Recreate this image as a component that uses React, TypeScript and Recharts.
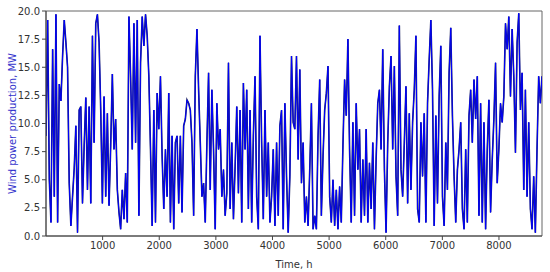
import { LineChart, Line, XAxis, YAxis, ReferenceArea } from 'recharts';

const powerFirstHalf = [
  8.9, 19.2, 5.0, 1.2, 16.6, 3.5, 19.7, 1.2, 13.5, 12.0, 16.0, 19.2, 17.2, 15.0, 4.7, 0.9,
  3.5, 6.0, 9.8, 0.3, 11.2, 11.5, 2.9, 8.0, 12.3, 4.1, 11.5, 2.9, 17.8, 8.3, 18.9, 19.7,
  17.2, 11.2, 2.9, 12.4, 3.5, 10.9, 2.7, 8.0, 14.4, 7.7, 10.4, 4.1, 2.1, 0.6, 4.1, 1.5,
  5.6, 1.2, 19.5, 14.2, 7.7, 18.9, 8.3, 19.2, 1.8, 15.4, 19.5, 16.9, 19.7, 17.8, 14.2, 7.7,
  0.9, 11.2, 1.2, 12.7, 9.5, 14.2, 7.1, 2.4, 7.7, 3.5, 12.7, 1.2, 8.9, 0.6, 8.3, 8.9,
  2.9, 8.9, 2.1, 9.8, 10.4, 12.1, 11.8, 11.2, 8.3, 1.8, 14.2, 18.4, 13.0, 8.3, 3.5, 4.7,
  1.2, 8.3, 14.5, 4.1, 13.0, 7.7, 0.6, 11.8, 7.7, 9.5, 3.5, 5.9, 1.8, 3.8, 15.4, 2.4,
  8.3, 1.5, 6.2, 11.5, 3.8, 11.2, 1.2, 13.6, 7.7, 13.0, 2.4, 11.2, 1.2, 8.9, 14.2, 3.5,
  0.6, 17.8, 8.3, 1.5, 11.2, 3.5, 8.3, 1.2, 3.5, 7.7, 0.9, 8.3, 1.8, 9.8, 11.2, 0.6,
  11.8, 5.3, 0.3, 5.3, 16.0, 10.1, 9.5,
];

const powerSecondHalf = [
  16.0, 6.8, 14.8, 4.7, 8.3, 1.2, 3.5, 0.9, 5.9, 11.8, 0.6, 1.8, 0.6, 8.9, 13.9, 1.8,
  7.1, 11.2, 12.7, 15.1, 3.5, 1.2, 5.0, 0.9, 4.1, 0.6, 4.4, 1.2, 8.0, 13.9, 10.7, 17.5,
  7.7, 1.2, 10.1, 1.8, 11.8, 5.9, 9.5, 1.2, 6.8, 1.8, 9.5, 1.2, 6.5, 2.4, 8.3, 0.6,
  6.8, 11.8, 13.0, 7.7, 16.6, 5.9, 0.3, 8.3, 13.3, 16.0, 7.7, 15.1, 5.3, 1.8, 18.7, 5.9,
  3.5, 8.3, 13.3, 2.9, 10.9, 4.1, 10.1, 13.0, 17.8, 2.4, 1.2, 10.1, 5.3, 10.9, 1.2, 11.8,
  15.7, 19.2, 13.0, 0.9, 10.7, 2.9, 12.4, 16.9, 3.5, 0.9, 8.3, 4.1, 14.5, 18.5, 10.7, 5.3,
  1.2, 5.9, 7.7, 10.1, 2.4, 0.6, 7.7, 1.2, 10.7, 13.0, 8.3, 13.9, 10.4, 14.2, 1.8, 11.8,
  1.2, 10.1, 0.6, 7.7, 12.1, 2.1, 6.8, 10.4, 15.4, 4.7, 7.7, 11.8, 10.1, 12.4, 18.9, 16.6,
  19.5, 12.4, 18.4, 14.2, 7.4, 17.2, 19.8, 11.2, 14.5, 4.1, 13.0, 3.5, 10.1, 2.4, 0.6, 5.3,
  0.3, 7.7, 14.2, 11.8, 14.2,
];

const power = [...powerFirstHalf, ...powerSecondHalf];
const HOURS_IN_YEAR = 8760;
const xTicks = [1000, 2000, 3000, 4000, 5000, 6000, 7000, 8000];
const yTicks = [0, 2.5, 5, 7.5, 10, 12.5, 15, 17.5, 20];

const step = HOURS_IN_YEAR / (power.length - 1);
const data = power.map((p, i) => ({ hour: i * step, power: p }));

const font = 'DejaVu Sans, sans-serif';

export default function App() {
  return (
    <div style={{ position: 'absolute', left: 0, top: 0, background: '#fff' }}>
      <LineChart
        width={550}
        height={272}
        data={data}
        margin={{ top: 11, right: 8, left: 0, bottom: 0 }}
      >
        <XAxis
          dataKey="hour"
          type="number"
          domain={[0, HOURS_IN_YEAR]}
          ticks={xTicks}
          allowDataOverflow
          height={36}
          stroke="#444"
          tickSize={4}
          tick={{ fontSize: 10, fill: '#333', fontFamily: font }}
          label={{ value: 'Time, h', position: 'insideBottom', offset: 4, fontSize: 10, fill: '#333', fontFamily: font }}
        />
        <YAxis
          type="number"
          domain={[0, 20]}
          ticks={yTicks}
          width={46}
          stroke="#444"
          tickSize={4}
          tickFormatter={(v: number) => v.toFixed(1)}
          tick={{ fontSize: 10, fill: '#333', fontFamily: font }}
          label={{
            value: 'Wind power production, MW',
            angle: -90,
            position: 'insideLeft',
            offset: 12,
            style: { textAnchor: 'middle', fontSize: 10, fill: '#3333cc', fontFamily: font },
          }}
        />
        <ReferenceArea x1={0} x2={HOURS_IN_YEAR} y1={0} y2={20} fill="none" stroke="#666" strokeWidth={1} ifOverflow="visible" />
        <Line
          type="linear"
          dataKey="power"
          stroke="#1c2260"
          strokeWidth={1.6}
          dot={false}
          isAnimationActive={false}
        />
        <Line
          type="linear"
          dataKey="power"
          stroke="#0000ff"
          strokeWidth={1}
          dot={false}
          isAnimationActive={false}
        />
      </LineChart>
    </div>
  );
}
